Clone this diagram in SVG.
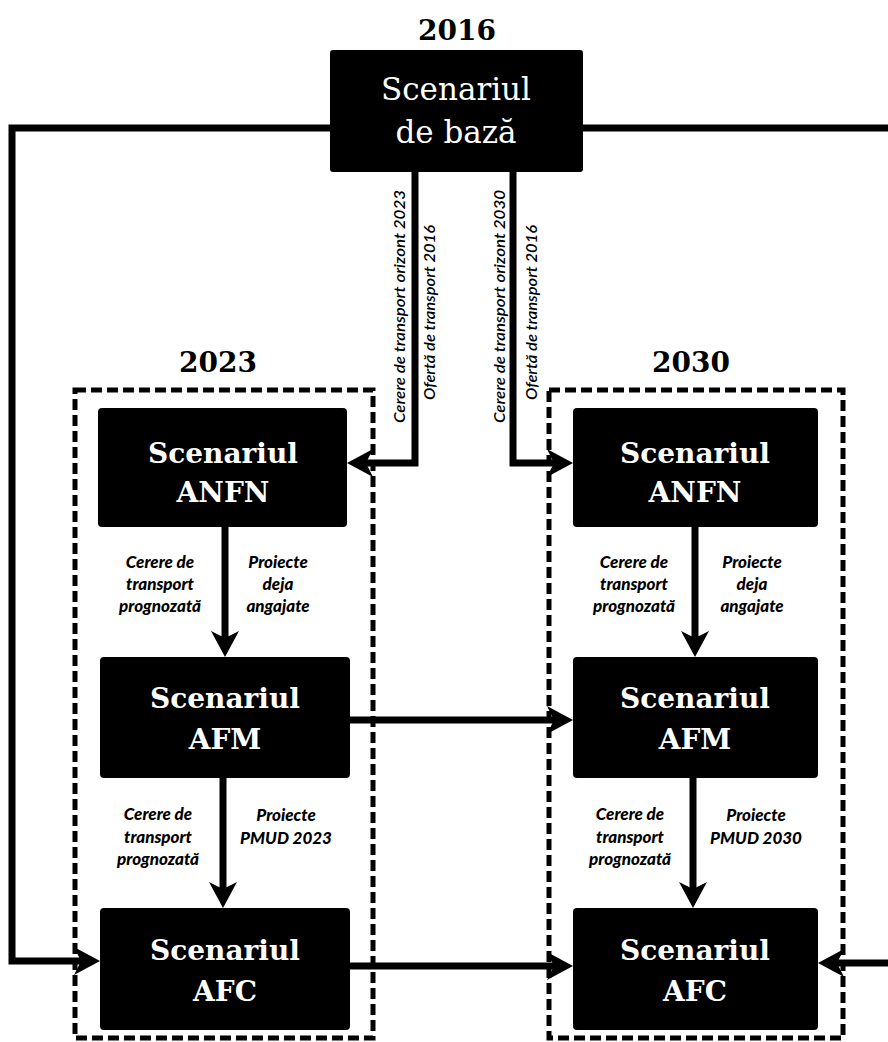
<svg xmlns="http://www.w3.org/2000/svg" width="888" height="1042" viewBox="0 0 888 1042">
  <style>
    .box { fill: #000; }
    .frame { fill: none; stroke: #000; stroke-width: 5; stroke-dasharray: 11 5; }
    .wire { fill: none; stroke: #000; stroke-width: 7; }
    .arrow { marker-end: url(#head); }
    .year { font-family: "DejaVu Serif", "Liberation Serif", serif; font-weight: bold; font-size: 28px; fill: #000; text-anchor: middle; }
    .title { font-family: "DejaVu Serif", "Liberation Serif", serif; font-weight: bold; font-size: 28px; fill: #fff; text-anchor: middle; }
    .title-base { font-family: "DejaVu Serif", "Liberation Serif", serif; font-size: 31px; fill: #fff; text-anchor: middle; }
    .note { font-family: Lato, "Open Sans", sans-serif; font-weight: 900; font-style: italic; font-size: 17px; fill: #000; text-anchor: middle; }
    .side { font-family: Lato, "Open Sans", sans-serif; font-style: italic; font-weight: 600; font-size: 16px; fill: #000; text-anchor: middle; }
  </style>
  <defs>
    <marker id="head" markerUnits="userSpaceOnUse" viewBox="0 0 26 28" refX="7" refY="14" markerWidth="26" markerHeight="28" orient="auto">
      <path d="M0,0 L26,14 L0,28 L7,14 Z" fill="#000"/>
    </marker>
  </defs>

  <rect width="888" height="1042" fill="#fff"/>

  <!-- year groupings -->
  <g id="group-2023">
    <text class="year" x="218" y="372">2023</text>
    <rect class="frame" x="75" y="390" width="298" height="648"/>
  </g>
  <g id="group-2030">
    <text class="year" x="691" y="372">2030</text>
    <rect class="frame" x="549" y="390" width="294" height="648"/>
  </g>

  <!-- connectors -->
  <g id="connectors">
    <path class="wire arrow" d="M330,128 H12 V961 H81"/>
    <path class="wire arrow" d="M583,128 H900 V963 H837"/>
    <path class="wire arrow" d="M415,172 V463 H366"/>
    <path class="wire arrow" d="M513,172 V463 H554"/>
    <path class="wire arrow" d="M225,527 V638"/>
    <path class="wire arrow" d="M695,527 V638"/>
    <path class="wire arrow" d="M223,778 V889"/>
    <path class="wire arrow" d="M693,778 V889"/>
    <path class="wire arrow" d="M350,720 H554"/>
    <path class="wire arrow" d="M350,966 H554"/>

    <!-- labels on the links leaving the base scenario -->
    <text class="side" transform="translate(405,306.5) rotate(-90)" textLength="233" lengthAdjust="spacingAndGlyphs">Cerere de transport orizont 2023</text>
    <text class="side" transform="translate(435,312.5) rotate(-90)" textLength="175" lengthAdjust="spacingAndGlyphs">Ofertă de transport 2016</text>
    <text class="side" transform="translate(505,306.5) rotate(-90)" textLength="233" lengthAdjust="spacingAndGlyphs">Cerere de transport orizont 2030</text>
    <text class="side" transform="translate(537,312.5) rotate(-90)" textLength="175" lengthAdjust="spacingAndGlyphs">Ofertă de transport 2016</text>

    <!-- ANFN to AFM -->
    <text class="note" x="160" y="568">Cerere de</text>
    <text class="note" x="160" y="590">transport</text>
    <text class="note" x="160" y="612">prognozată</text>
    <text class="note" x="278" y="568">Proiecte</text>
    <text class="note" x="278" y="590">deja</text>
    <text class="note" x="278" y="612">angajate</text>
    <text class="note" x="634" y="568">Cerere de</text>
    <text class="note" x="634" y="590">transport</text>
    <text class="note" x="634" y="612">prognozată</text>
    <text class="note" x="752" y="568">Proiecte</text>
    <text class="note" x="752" y="590">deja</text>
    <text class="note" x="752" y="612">angajate</text>

    <!-- AFM to AFC -->
    <text class="note" x="158" y="820">Cerere de</text>
    <text class="note" x="158" y="843">transport</text>
    <text class="note" x="158" y="865">prognozată</text>
    <text class="note" x="286" y="821">Proiecte</text>
    <text class="note" x="286" y="844">PMUD 2023</text>
    <text class="note" x="630" y="820">Cerere de</text>
    <text class="note" x="630" y="843">transport</text>
    <text class="note" x="630" y="865">prognozată</text>
    <text class="note" x="756" y="821">Proiecte</text>
    <text class="note" x="756" y="844">PMUD 2030</text>
  </g>

  <!-- scenario nodes -->
  <g id="node-base">
    <text class="year" x="457" y="40">2016</text>
    <rect class="box" x="330" y="50" width="253" height="122" rx="3"/>
    <text class="title-base" x="456" y="100">Scenariul</text>
    <text class="title-base" x="456" y="143">de bază</text>
  </g>
  <g id="node-anfn-2023">
    <rect class="box" x="98" y="408" width="249" height="119" rx="4"/>
    <text class="title" x="223" y="463">Scenariul</text>
    <text class="title" x="223" y="502">ANFN</text>
  </g>
  <g id="node-afm-2023">
    <rect class="box" x="100" y="657" width="250" height="121" rx="4"/>
    <text class="title" x="225" y="708">Scenariul</text>
    <text class="title" x="225" y="749">AFM</text>
  </g>
  <g id="node-afc-2023">
    <rect class="box" x="100" y="908" width="250" height="122" rx="4"/>
    <text class="title" x="225" y="960">Scenariul</text>
    <text class="title" x="225" y="1001">AFC</text>
  </g>
  <g id="node-anfn-2030">
    <rect class="box" x="573" y="408" width="245" height="119" rx="4"/>
    <text class="title" x="695" y="463">Scenariul</text>
    <text class="title" x="695" y="502">ANFN</text>
  </g>
  <g id="node-afm-2030">
    <rect class="box" x="573" y="657" width="245" height="121" rx="4"/>
    <text class="title" x="695" y="708">Scenariul</text>
    <text class="title" x="695" y="749">AFM</text>
  </g>
  <g id="node-afc-2030">
    <rect class="box" x="573" y="908" width="245" height="122" rx="4"/>
    <text class="title" x="695" y="960">Scenariul</text>
    <text class="title" x="695" y="1001">AFC</text>
  </g>
</svg>
